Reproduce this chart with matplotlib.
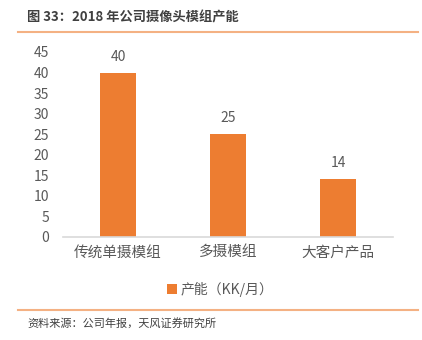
import matplotlib.pyplot as plt
from matplotlib.lines import Line2D

plt.rcParams['font.family'] = ['Noto Sans CJK SC', 'DejaVu Sans']

categories = ['传统单摄模组', '多摄模组', '大客户产品']
capacity = [40, 25, 14]
yticks = [0, 5, 10, 15, 20, 25, 30, 35, 40, 45]

bar_color = '#ED7D31'
text_gray = '#595959'

fig = plt.figure(figsize=(4.22, 3.4), dpi=100)
ax = fig.add_axes([63 / 422, 1 - 237 / 340, 330 / 422, 185 / 340])

x = range(len(categories))
bars = ax.bar(x, capacity, width=0.32, color=bar_color, label='产能（KK/月）', zorder=2)
for xi, v in zip(x, capacity):
    ax.text(xi, v + 2.2, f'{v}', ha='center', va='bottom', fontsize=10, color=text_gray)

ax.set_xlim(-0.5, 2.5)
ax.set_ylim(0, 45)
ax.set_yticks(yticks)
ax.set_xticks(list(x))
ax.set_xticklabels(categories, fontsize=10.5, color=text_gray)
ax.tick_params(axis='y', length=0, labelsize=10, labelcolor=text_gray, pad=10)
ax.tick_params(axis='x', length=0, pad=6)
for side in ['top', 'right', 'left']:
    ax.spines[side].set_visible(False)
ax.spines['bottom'].set_color('#D9D9D9')
ax.spines['bottom'].set_linewidth(1.2)

fig.legend(handles=[bars], loc='center', bbox_to_anchor=(0.522, 1 - 289 / 340),
           frameon=False, fontsize=10, labelcolor=text_gray,
           handlelength=0.7, handleheight=0.7, handletextpad=0.3)

# header and footer
fig.text(27 / 422, 1 - 17 / 340, '图 33：2018 年公司摄像头模组产能', fontsize=9.5,
         fontweight='bold', color='#404040', va='center')
fig.add_artist(Line2D([18 / 422, 418 / 422], [1 - 32 / 340] * 2, color='#F4B183', lw=1.5))
fig.add_artist(Line2D([18 / 422, 418 / 422], [1 - 310 / 340] * 2, color='#F4B183', lw=1.5))
fig.text(27 / 422, 1 - 323 / 340, '资料来源：公司年报，天风证券研究所', fontsize=8,
         color='#404040', va='center')

fig.savefig('out.png', dpi=100)
